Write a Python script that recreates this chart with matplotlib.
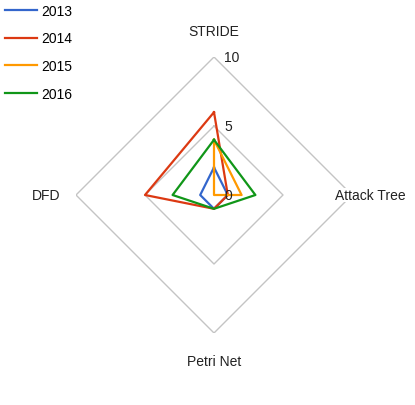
import numpy as np
import matplotlib
matplotlib.use('Agg')
import matplotlib.pyplot as plt

plt.rcParams['font.family'] = ['Liberation Sans', 'DejaVu Sans']

categories = ['STRIDE', 'Attack Tree', 'Petri Net', 'DFD']
years = ['2013', '2014', '2015', '2016']
v2013 = [2, 1, 1, 1]
v2014 = [6, 1, 1, 5]
v2015 = [4, 2, 0, 0]
v2016 = [4, 3, 1, 3]
grid_levels = [5, 10]
tick_labels = ['0', '5', '10']
tick_values = [0, 5, 10]

colors = ['#3366cc', '#dc3912', '#ff9900', '#109618']

fig = plt.figure(figsize=(4.15, 4.06), dpi=100)
# centre ~ (214, 196) px, radius ~ 138 px
ax = fig.add_axes([(214 - 138) / 415, (406 - 196 - 138) / 406, 276 / 415, 276 / 406],
                  projection='polar')
ax.set_theta_zero_location('N')
ax.set_theta_direction(-1)
ax.set_ylim(0, 10)

angles = np.linspace(0, 2 * np.pi, len(categories), endpoint=False)
closed = np.append(angles, angles[0])

# diamond grid
for g in grid_levels:
    ax.plot(closed, [g] * len(closed), color='#c4c4c4', lw=1, zorder=1)

for name, vals, c in zip(years, [v2013, v2014, v2015, v2016], colors):
    ax.plot(closed, vals + vals[:1], color=c, lw=1.6, label=name, zorder=3)

ax.grid(False)
ax.spines['polar'].set_visible(False)
ax.set_xticks([])
ax.set_yticks([])

for t, lab in zip(tick_values, tick_labels):
    ax.annotate(lab, xy=(0, t), xytext=(10, 0), textcoords='offset pixels',
                ha='left', va='center', fontsize=10, color='#222222', zorder=5)

# category labels
offsets = [(0, 26), (18, 0), (0, -28), (-30, 0)]
for a, lab, off in zip(angles, categories, offsets):
    ax.annotate(lab, xy=(a, 10), xytext=off, textcoords='offset pixels',
                ha='center', va='center', fontsize=10, color='#222222',
                annotation_clip=False, zorder=5,
                bbox=dict(facecolor='white', edgecolor='none', pad=0))

fig.legend(loc='upper left', bbox_to_anchor=(0.012, 0.988), frameon=False,
           fontsize=10, handlelength=2.3, handletextpad=0.3, labelspacing=0.98,
           borderpad=0, borderaxespad=0)

fig.savefig('out.png', dpi=100)
